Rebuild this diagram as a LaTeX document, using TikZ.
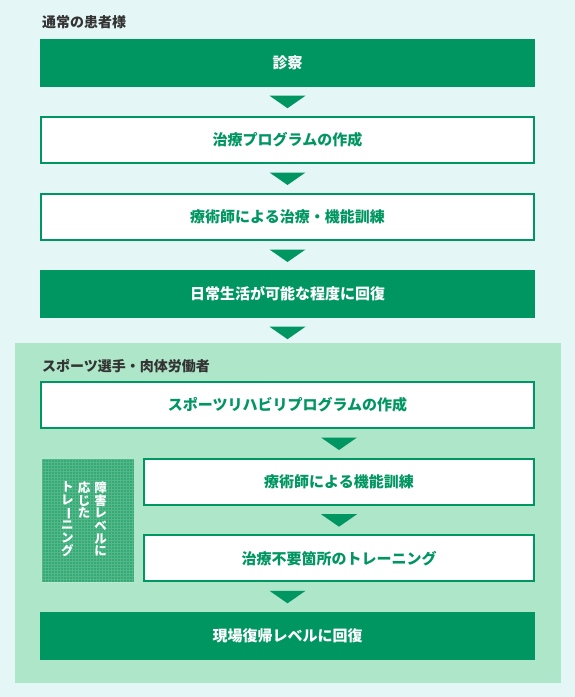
\documentclass[tikz,border=0pt]{standalone}
\usepackage{fontspec}
\setmainfont{Noto Sans CJK JP}
\usetikzlibrary{calc}
\definecolor{G}{RGB}{0,150,97}
\definecolor{bgc}{RGB}{229,246,246}
\definecolor{lgreen}{RGB}{174,230,201}
\definecolor{hatch}{RGB}{52,170,116}
\definecolor{tgray}{RGB}{51,51,51}
\tikzset{
  greenbox/.style={fill=G, draw=none, minimum width=495bp, minimum height=48bp, inner sep=0pt,
    text=white, font=\bfseries\fontsize{15bp}{18bp}\selectfont},
  whitebox/.style={fill=white, draw=G, line width=2bp, minimum width=493bp, minimum height=46bp, inner sep=0pt,
    text=G, font=\bfseries\fontsize{15bp}{18bp}\selectfont},
  titletext/.style={anchor=west, inner sep=0pt, text=tgray, font=\bfseries\fontsize{14bp}{16bp}\selectfont},
  vcol/.style={anchor=north, inner sep=0pt, align=center, text=white, font=\bfseries\fontsize{12.5bp}{12.7bp}\selectfont},
  tri/.style={fill=G, draw=none}
}
\newcommand{\vbar}{\rotatebox[origin=c]{-90}{ー}}
\newcommand{\downtri}[1]{\fill[tri] ($(#1.south)+(-18bp,-8.5bp)$) -- ++(36bp,0) -- ++(-18bp,-12.5bp) -- cycle;}
\begin{document}
\begin{tikzpicture}[x=1bp,y=-1bp]
\useasboundingbox (0,0) rectangle (575,697);
\fill[bgc] (0,0) rectangle (575,697);
\fill[lgreen] (15,343) rectangle (561,683);

\node[titletext] (t1) at (42,22.5) {通常の患者様};
\node[greenbox] (b1) at (287.5,63) {診察};
\node[whitebox] (b2) at (287.5,140) {治療プログラムの作成};
\node[whitebox] (b3) at (287.5,217) {療術師による治療・機能訓練};
\node[greenbox] (b4) at (287.5,294) {日常生活が可能な程度に回復};
\downtri{b1}
\downtri{b2}
\downtri{b3}
\downtri{b4}

\node[titletext] (t2) at (42,366) {スポーツ選手・肉体労働者};
\node[whitebox] (b5) at (287.5,405) {スポーツリハビリプログラムの作成};
\node[whitebox, minimum width=390bp] (b6) at (339,481.7) {療術師による機能訓練};
\node[whitebox, minimum width=390bp] (b7) at (339,558.3) {治療不要箇所のトレーニング};
\node[greenbox] (b8) at (287.5,636) {現場復帰レベルに回復};
\downtri{b6}
\fill[tri] ($(b5.south)+(33.5bp,-8.5bp)$) -- ++(36bp,0) -- ++(-18bp,-12.5bp) -- cycle;
\fill[tri] ($(b7.south)+(-69.5bp,-8.5bp)$) -- ++(36bp,0) -- ++(-18bp,-12.5bp) -- cycle;

\node[fill=hatch, draw=none, minimum width=92.5bp, minimum height=123.5bp, inner sep=0pt] (h) at (87.75,520.25) {};
\begin{scope}
\clip (h.south west) rectangle (h.north east);
\draw[white, opacity=0.16, line width=0.7bp, step=3bp] ($(h.north west)+(-1,-1)$) grid ($(h.south east)+(1,1)$);
\end{scope}
\node[vcol] (v1) at (100.7,481.5) {障\\害\\レ\\ベ\\ル\\に};
\node[vcol] (v2) at (84,481.5) {応\\じ\\た};
\node[vcol] (v3) at (67.3,481.5) {ト\\レ\\\vbar\\ニ\\ン\\グ};
\end{tikzpicture}
\end{document}
